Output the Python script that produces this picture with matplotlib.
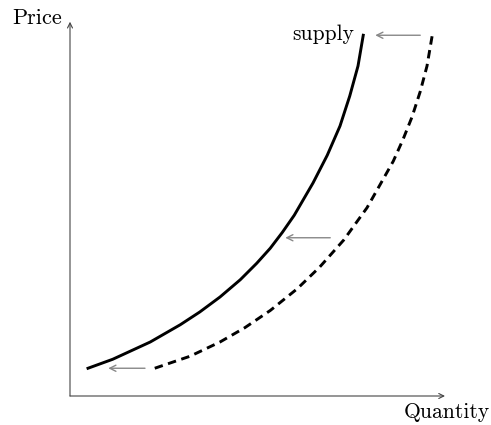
import matplotlib.pyplot as plt

# supply curve (solid)
supply_x = [0.24, 0.57, 1.07, 1.47, 1.73, 2.00, 2.27, 2.49, 2.67, 2.83, 2.99, 3.24, 3.43, 3.60, 3.73, 3.84, 3.91]
supply_y = [0.37, 0.49, 0.72, 0.95, 1.12, 1.32, 1.55, 1.77, 1.97, 2.18, 2.41, 2.84, 3.21, 3.60, 4.00, 4.40, 4.81]

# original supply curve (dashed)
old_x = [1.13, 1.60, 2.00, 2.33, 2.67, 3.03, 3.33, 3.65, 3.96, 4.13, 4.31, 4.44, 4.56, 4.67, 4.76, 4.83]
old_y = [0.37, 0.53, 0.72, 0.91, 1.14, 1.43, 1.72, 2.08, 2.51, 2.81, 3.13, 3.42, 3.72, 4.06, 4.40, 4.81]

# shift arrows: (from x, to x, y)
shift_from = [4.67, 3.47, 1.00]
shift_to = [4.07, 2.87, 0.51]
shift_y = [4.81, 2.11, 0.37]

plt.rcParams['font.family'] = ['cmr10', 'DejaVu Serif']

fig = plt.figure(figsize=(4.91, 4.25), dpi=100)
ax = fig.add_axes([0, 0, 1, 1])
ax.set_xlim(-70 / 75, 421 / 75)
ax.set_ylim(-29 / 75, 396 / 75)
ax.axis('off')

axis_style = dict(arrowstyle='->', color='#444444', lw=0.8, shrinkA=0, shrinkB=0,
                  mutation_scale=9)
ax.annotate('', xy=(5.0, 0), xytext=(0, 0), arrowprops=axis_style)
ax.annotate('', xy=(0, 4.99), xytext=(0, 0), arrowprops=axis_style)

ax.text(-0.1, 5.04, 'Price', ha='right', va='center', fontsize=16)
ax.text(5.03, -0.09, 'Quantity', ha='center', va='top', fontsize=15.5)

ax.plot(supply_x, supply_y, color='black', lw=2.1, solid_joinstyle='round')
ax.plot(old_x, old_y, color='black', lw=2.1, linestyle=(0, (2.9, 1.9)))
ax.text(3.79, 4.83, 'supply', ha='right', va='center', fontsize=15.5)

for x0, x1, y in zip(shift_from, shift_to, shift_y):
    ax.annotate('', xy=(x1, y), xytext=(x0, y),
                arrowprops=dict(arrowstyle='->', color='#888888', lw=1.0,
                                shrinkA=0, shrinkB=0, mutation_scale=11))

plt.savefig('out.png', dpi=100)
